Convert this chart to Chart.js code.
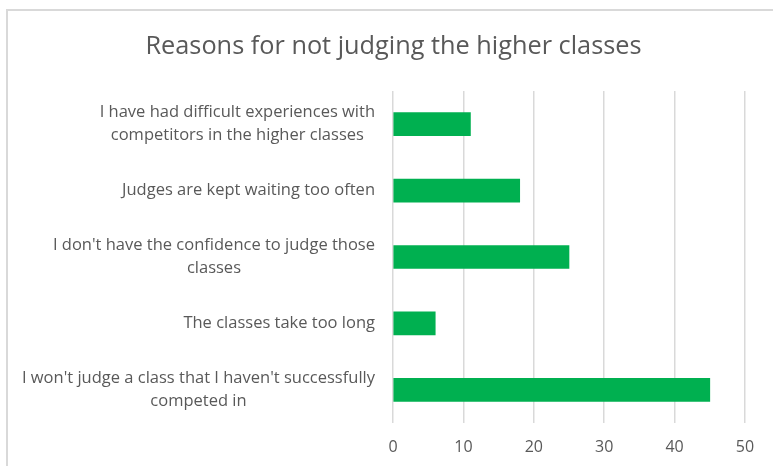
<!DOCTYPE html>
<html>
<head>
<meta charset="utf-8">
<script src="https://cdn.jsdelivr.net/npm/chart.js@4"></script>
<style>
  html, body { margin: 0; padding: 0; background: #fff; }
  #wrap { position: relative; width: 773px; height: 466px; }
  #frame { position: absolute; left: 6px; top: 9px; right: -4px; bottom: -4px; border-left: 2px solid #d9d9d9; border-top: 2px solid #d9d9d9; }
  canvas { position: absolute; left: 0; top: 0; }
</style>
</head>
<body>
<div id="wrap">
  <div id="frame"></div>
  <canvas id="chart" width="773" height="466"></canvas>
</div>
<script>
const title = 'Reasons for not judging the higher classes';

const categories = [
    ['I have had difficult experiences with', 'competitors in the higher classes'],
    ['Judges are kept waiting too often'],
    ["I don't have the confidence to judge those", 'classes'],
    ['The classes take too long'],
    ["I won't judge a class that I haven't successfully", 'competed in']
];
const counts = [11, 18, 25, 6, 45];
const xTicks = [0, 10, 20, 30, 40, 50];

const textColor = '#595959';
const fontFamily = '"Open Sans", "Liberation Sans", sans-serif';

// title centred on the frame, not on the plot, like the Excel original
const chartTitle = {
    id: 'chartTitle',
    afterDraw(chart) {
        const ctx = chart.ctx;
        ctx.save();
        ctx.font = '25.3px ' + fontFamily;
        ctx.fillStyle = textColor;
        ctx.textAlign = 'center';
        ctx.textBaseline = 'middle';
        ctx.fillText(title, 393.5, 47);
        ctx.restore();
    }
};

// Excel style category labels: lines centred on each other, block right aligned to the axis
const categoryLabels = {
    id: 'categoryLabels',
    afterDraw(chart) {
        const ctx = chart.ctx;
        const yScale = chart.scales.y;
        const right = chart.chartArea.left - 18;
        const lineH = 23;
        ctx.save();
        ctx.font = '16.5px ' + fontFamily;
        ctx.fillStyle = textColor;
        ctx.textAlign = 'center';
        ctx.textBaseline = 'middle';
        categories.forEach((lines, i) => {
            const y = yScale.getPixelForValue(i);
            const w = Math.max(...lines.map(l => ctx.measureText(l).width));
            const cx = right - w / 2;
            const top = y - (lines.length - 1) * lineH / 2;
            lines.forEach((l, j) => ctx.fillText(l, cx, top + j * lineH));
        });
        ctx.restore();
    }
};

new Chart(document.getElementById('chart'), {
    type: 'bar',
    data: {
        labels: categories.map(c => c.join(' ')),
        datasets: [{
            label: 'Count',
            data: counts,
            backgroundColor: '#00B050',
            barThickness: 23
        }]
    },
    options: {
        indexAxis: 'y',
        responsive: false,
        animation: false,
        layout: { padding: { left: 0, right: 28, top: 91, bottom: 0 } },
        plugins: {
            legend: { display: false },
            tooltip: { enabled: false },
            title: { display: false }
        },
        scales: {
            x: {
                min: 0,
                max: 50,
                afterBuildTicks: s => { s.ticks = xTicks.map(v => ({ value: v })); },
                grid: { color: '#d9d9d9', lineWidth: 1.5, drawTicks: false },
                border: { display: false },
                ticks: {
                    color: textColor,
                    font: { family: fontFamily, size: 16 },
                    padding: 15
                },
                afterFit: s => { s.height = 43; }
            },
            y: {
                grid: { display: false },
                border: { display: false },
                ticks: { display: false },
                afterFit: s => { s.width = 393; }
            }
        }
    },
    plugins: [chartTitle, categoryLabels]
});
</script>
</body>
</html>
